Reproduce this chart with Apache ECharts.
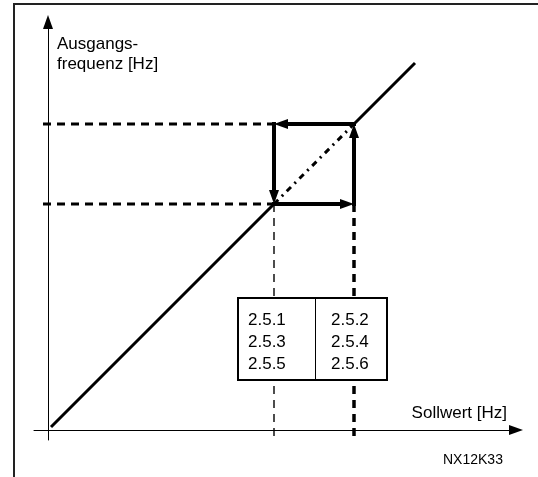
<!DOCTYPE html>
<html>
<head>
<meta charset="utf-8">
<script src="https://cdn.jsdelivr.net/npm/echarts@6/dist/echarts.min.js"></script>
<style>
html, body { margin: 0; padding: 0; background: #fff; }
#chart { width: 538px; height: 477px; }
</style>
</head>
<body>
<div id="chart"></div>
<script>
// Kennlinie Sollwert -> Ausgangsfrequenz (Daten-Einheiten)
const lineStart = [0.6, 0.6];
const lineEnd = [73.4, 73.4];
// Hysterese-Grenzen
const freqLow = 45.2;
const freqHigh = 61.2;
// Pfeile um das Hysterese-Rechteck: [x1, y1, x2, y2]
const hystArrows = [
  [freqLow, freqLow, freqHigh, freqLow],
  [freqHigh, freqLow, freqHigh, freqHigh],
  [freqHigh, freqHigh, freqLow, freqHigh],
  [freqLow, freqHigh, freqLow, freqLow]
];
// Parameter-Tabelle
const paramLeft = ['2.5.1', '2.5.3', '2.5.5'];
const paramRight = ['2.5.2', '2.5.4', '2.5.6'];

const FONT = '"Liberation Sans", Arial, sans-serif';
const chart = echarts.init(document.getElementById('chart'));

function dashed (data, width, dash) {
  return {
    type: 'line',
    data: data,
    symbol: 'none',
    silent: true,
    z: 1,
    lineStyle: { color: '#000', width: width, type: dash }
  };
}

const option = {
  animation: false,
  backgroundColor: '#fff',
  grid: { left: 34, top: 22, right: 22, bottom: 37 },
  xAxis: {
    type: 'value',
    min: -2.8,
    max: 93.6,
    splitLine: { show: false },
    axisTick: { show: false },
    axisLabel: { show: false },
    axisLine: {
      onZero: true,
      symbol: ['none', 'triangle'],
      symbolSize: [10, 14],
      lineStyle: { color: '#000', width: 1 }
    }
  },
  yAxis: {
    type: 'value',
    min: -2,
    max: 81.6,
    splitLine: { show: false },
    axisTick: { show: false },
    axisLabel: { show: false },
    axisLine: {
      onZero: true,
      symbol: ['none', 'triangle'],
      symbolSize: [10, 14],
      lineStyle: { color: '#000', width: 1 }
    }
  },
  series: [
    // Hilfslinien
    dashed([[-1, freqHigh], [freqLow, freqHigh]], 3, [8, 6]),
    dashed([[-1, freqLow], [freqLow, freqLow]], 3, [8, 6]),
    dashed([[freqLow, freqLow], [freqLow, -1.6]], 1.4, [8, 6]),
    dashed([[freqHigh, freqLow], [freqHigh, -1.6]], 3.5, [8, 6]),
    // Kennlinie
    {
      type: 'line',
      data: [lineStart, [freqLow, freqLow]],
      symbol: 'none',
      z: 3,
      lineStyle: { color: '#000', width: 3 }
    },
    {
      type: 'line',
      data: [[freqLow, freqLow], [freqHigh, freqHigh]],
      symbol: 'none',
      z: 3,
      lineStyle: { color: '#000', width: 3, type: [6, 5, 2, 5] }
    },
    {
      type: 'line',
      data: [[freqHigh, freqHigh], lineEnd],
      symbol: 'none',
      z: 3,
      lineStyle: { color: '#000', width: 3 }
    },
    // Hysterese-Pfeile
    {
      type: 'custom',
      data: hystArrows,
      z: 4,
      renderItem: function (params, api) {
        const a = api.coord([api.value(0), api.value(1)]);
        const b = api.coord([api.value(2), api.value(3)]);
        const dx = b[0] - a[0];
        const dy = b[1] - a[1];
        const len = Math.sqrt(dx * dx + dy * dy);
        const ux = dx / len;
        const uy = dy / len;
        const head = 14;
        const half = 5;
        const bx = b[0] - ux * head;
        const by = b[1] - uy * head;
        return {
          type: 'group',
          children: [
            {
              type: 'line',
              shape: { x1: a[0], y1: a[1], x2: bx, y2: by },
              style: { stroke: '#000', lineWidth: 4, lineCap: 'square' }
            },
            {
              type: 'polygon',
              shape: {
                points: [
                  [b[0], b[1]],
                  [bx - uy * half, by + ux * half],
                  [bx + uy * half, by - ux * half]
                ]
              },
              style: { fill: '#000' }
            }
          ]
        };
      }
    }
  ],
  graphic: [
    // Rahmen
    {
      type: 'polyline',
      shape: { points: [[14, 477], [14, 4], [538, 4]] },
      style: { stroke: '#222', lineWidth: 2, fill: null },
      z: 10
    },
    {
      type: 'text',
      left: 57,
      top: 34,
      style: {
        text: 'Ausgangs-\nfrequenz [Hz]',
        font: '17px ' + FONT,
        lineHeight: 20,
        fill: '#000'
      },
      z: 10
    },
    {
      type: 'text',
      x: 507,
      y: 413,
      style: {
        text: 'Sollwert [Hz]',
        font: '17px ' + FONT,
        align: 'right',
        verticalAlign: 'middle',
        fill: '#000'
      },
      z: 10
    },
    {
      type: 'text',
      x: 443,
      y: 460,
      style: {
        text: 'NX12K33',
        font: '14px ' + FONT,
        verticalAlign: 'middle',
        fill: '#000'
      },
      z: 10
    },
    // Parameter-Tabelle
    {
      type: 'rect',
      x: 238,
      y: 298,
      z: 20,
      shape: { x: 0, y: 0, width: 149, height: 82 },
      style: { fill: '#fff', stroke: '#000', lineWidth: 2 }
    },
    {
      type: 'line',
      z: 21,
      shape: { x1: 315.5, y1: 298, x2: 315.5, y2: 380 },
      style: { stroke: '#000', lineWidth: 1 }
    },
    {
      type: 'text',
      x: 248,
      y: 309,
      z: 21,
      style: {
        text: paramLeft.join('\n'),
        font: '17px ' + FONT,
        lineHeight: 22,
        fill: '#000'
      }
    },
    {
      type: 'text',
      x: 331,
      y: 309,
      z: 21,
      style: {
        text: paramRight.join('\n'),
        font: '17px ' + FONT,
        lineHeight: 22,
        fill: '#000'
      }
    }
  ]
};

chart.setOption(option);
</script>
</body>
</html>
